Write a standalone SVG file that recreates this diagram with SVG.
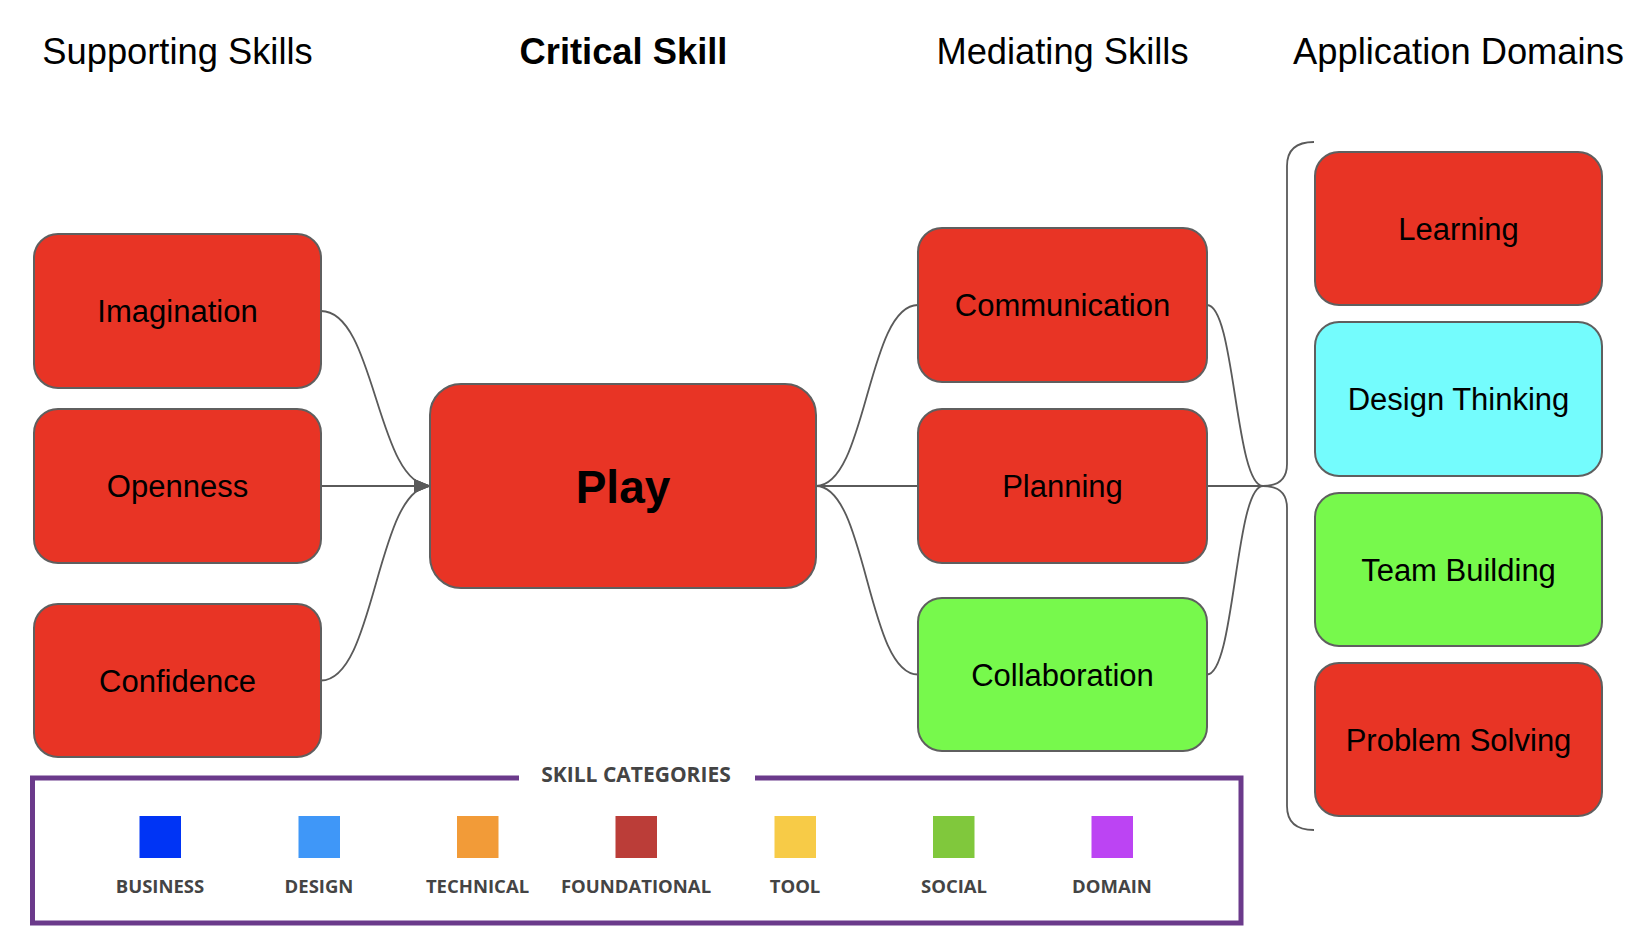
<svg xmlns="http://www.w3.org/2000/svg" width="1640" height="946" viewBox="0 0 1640 946">
<style>
.title{font-family:"Liberation Sans",Arial,sans-serif;font-size:36.3px;fill:#000;text-anchor:middle}
.bold{font-weight:bold}
.box{stroke:#5f5f5f;stroke-width:2}
.red{fill:#e83425}
.cyan{fill:#74fcfd}
.green{fill:#77f94c}
.lbl{font-family:"Liberation Sans",Arial,sans-serif;font-size:31px;fill:#000;text-anchor:middle}
.play{font-family:"Liberation Sans",Arial,sans-serif;font-size:46px;font-weight:bold;fill:#000;text-anchor:middle}
.conn{fill:none;stroke:#5a5a5a;stroke-width:1.8}
.leg{font-family:"Open Sans","DejaVu Sans",sans-serif;font-size:18.5px;font-weight:bold;fill:#444;text-anchor:middle}
</style>
<defs>
<marker id="arr" markerUnits="userSpaceOnUse" markerWidth="18" markerHeight="14" refX="17" refY="7" orient="auto">
<path d="M0,0 L17,7 L0,14 Z" fill="#5a5a5a"/>
</marker>
</defs>
<rect width="1640" height="946" fill="#fff"/>

<g id="titles">
<text class="title" x="177.5" y="64">Supporting Skills</text>
<text class="title bold" x="623.5" y="64">Critical Skill</text>
<text class="title" x="1062.5" y="64">Mediating Skills</text>
<text class="title" x="1458.5" y="64">Application Domains</text>
</g>

<g id="connectors">
<path class="conn" d="M321,311 C376,311 376,486 431,486" marker-end="url(#arr)"/>
<path class="conn" d="M321,486 L431,486" marker-end="url(#arr)"/>
<path class="conn" d="M321,680.5 C376,680.5 376,486 431,486" marker-end="url(#arr)"/>
<path class="conn" d="M816,486 C867,486 867,305 918,305"/>
<path class="conn" d="M816,486 L918,486"/>
<path class="conn" d="M816,486 C867,486 867,674.5 918,674.5"/>
<path class="conn" d="M1207,305 C1235,305 1235,486 1263,486"/>
<path class="conn" d="M1207,486 L1263,486"/>
<path class="conn" d="M1207,674.5 C1235,674.5 1235,486 1263,486"/>
<path id="brace" class="conn" d="M1314,142 C1296,142 1287,150 1287,166 L1287,464 C1287,478 1279,486 1263,486 C1279,486 1287,494 1287,508 L1287,806 C1287,822 1296,830 1314,830"/>
</g>

<g id="imagination"><rect class="box red" x="34" y="234" width="287" height="154" rx="24"/><text class="lbl" x="177.5" y="322">Imagination</text></g>
<g id="openness"><rect class="box red" x="34" y="409" width="287" height="154" rx="24"/><text class="lbl" x="177.5" y="497">Openness</text></g>
<g id="confidence"><rect class="box red" x="34" y="604" width="287" height="153" rx="24"/><text class="lbl" x="177.5" y="691.5">Confidence</text></g>

<g id="play"><rect class="box red" x="430" y="384" width="386" height="204" rx="31"/><text class="play" x="623" y="502.5">Play</text></g>

<g id="communication"><rect class="box red" x="918" y="228" width="289" height="154" rx="24"/><text class="lbl" x="1062.5" y="316">Communication</text></g>
<g id="planning"><rect class="box red" x="918" y="409" width="289" height="154" rx="24"/><text class="lbl" x="1062.5" y="497">Planning</text></g>
<g id="collaboration"><rect class="box green" x="918" y="598" width="289" height="153" rx="24"/><text class="lbl" x="1062.5" y="685.5">Collaboration</text></g>

<g id="learning"><rect class="box red" x="1315" y="152" width="287" height="153" rx="24"/><text class="lbl" x="1458.5" y="239.5">Learning</text></g>
<g id="design-thinking"><rect class="box cyan" x="1315" y="322" width="287" height="154" rx="24"/><text class="lbl" x="1458.5" y="410">Design Thinking</text></g>
<g id="team-building"><rect class="box green" x="1315" y="493" width="287" height="153" rx="24"/><text class="lbl" x="1458.5" y="580.5">Team Building</text></g>
<g id="problem-solving"><rect class="box red" x="1315" y="663" width="287" height="153" rx="24"/><text class="lbl" x="1458.5" y="750.5">Problem Solving</text></g>

<g id="legend">
<path d="M519,778 L32.5,778 L32.5,923 L1241,923 L1241,778 L755,778" fill="none" stroke="#6b3a8b" stroke-width="5"/>
<text class="leg" x="636" y="781.5" style="font-size:21px">SKILL CATEGORIES</text>
<rect x="139.5" y="816" width="41.5" height="42" fill="#0034f5"/>
<rect x="298.5" y="816" width="41.5" height="42" fill="#3f97f8"/>
<rect x="457" y="816" width="41.5" height="42" fill="#f29b38"/>
<rect x="615.5" y="816" width="41.5" height="42" fill="#bb3d38"/>
<rect x="774.5" y="816" width="41.5" height="42" fill="#f7cb47"/>
<rect x="933" y="816" width="41.5" height="42" fill="#80c83c"/>
<rect x="1091.5" y="816" width="41.5" height="42" fill="#bc44f3"/>
<text class="leg" x="160" y="892.5">BUSINESS</text>
<text class="leg" x="319" y="892.5">DESIGN</text>
<text class="leg" x="477.5" y="892.5">TECHNICAL</text>
<text class="leg" x="636" y="892.5">FOUNDATIONAL</text>
<text class="leg" x="795" y="892.5">TOOL</text>
<text class="leg" x="954" y="892.5">SOCIAL</text>
<text class="leg" x="1112" y="892.5">DOMAIN</text>
</g>
</svg>
